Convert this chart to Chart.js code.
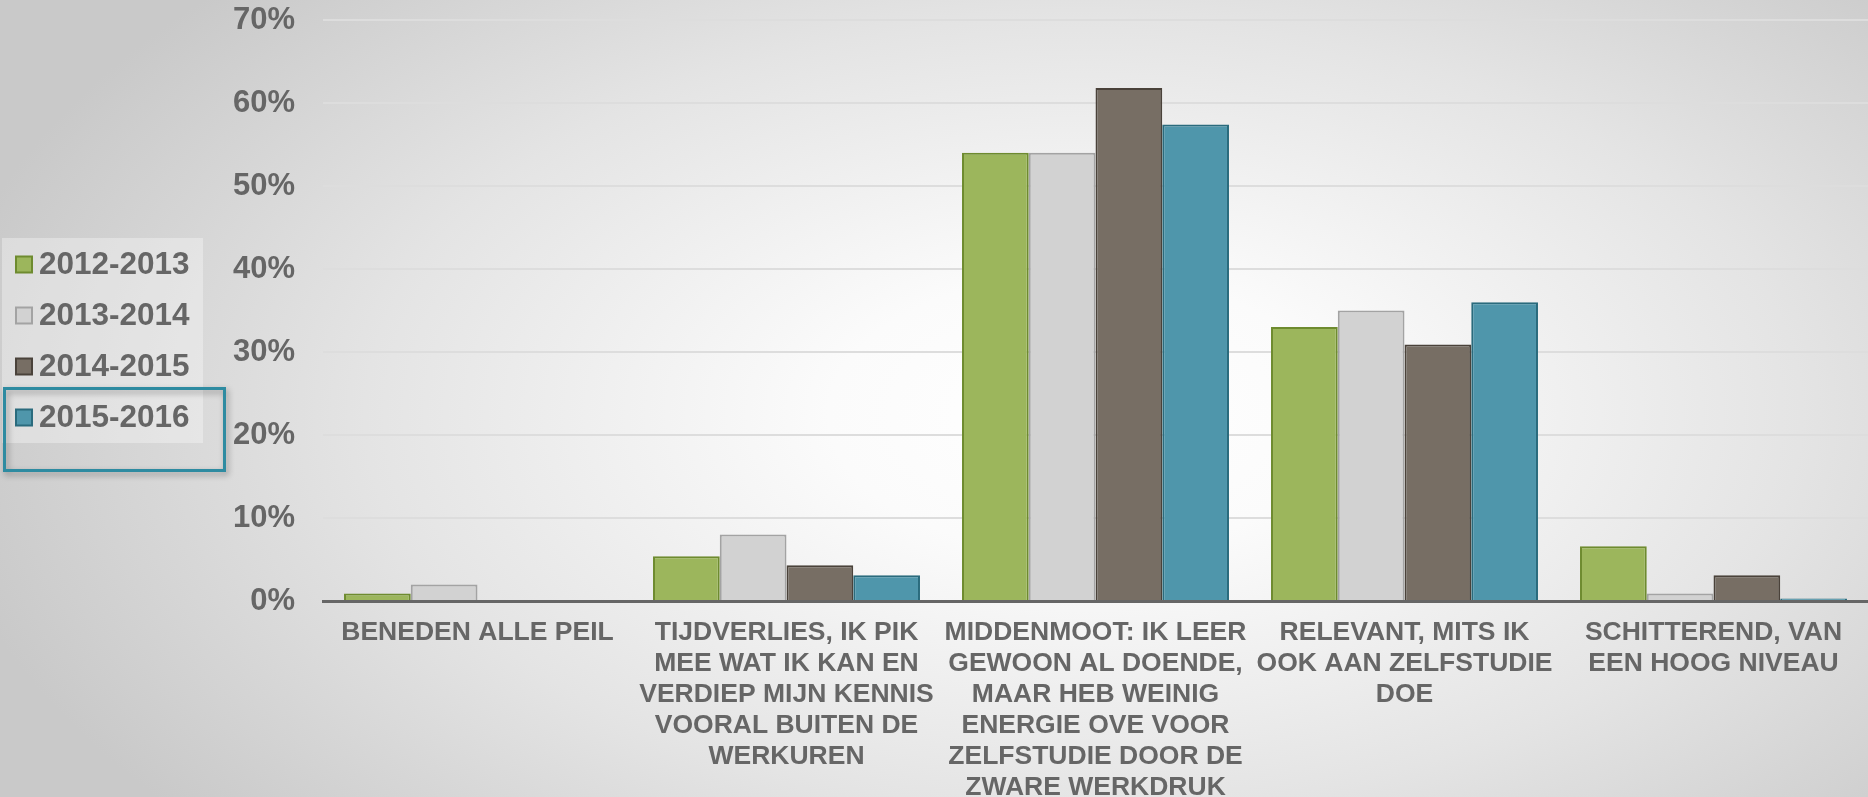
<!DOCTYPE html>
<html>
<head>
<meta charset="utf-8">
<script src="https://cdn.jsdelivr.net/npm/chart.js@4/dist/chart.umd.min.js"></script>
<style>
  html, body { margin: 0; padding: 0; }
  body {
    width: 1868px; height: 797px; overflow: hidden;
    background: radial-gradient(ellipse 62% 80% at 58% 52%, #ffffff 0%, #fbfbfb 22%, #e4e4e4 62%, #c9c9c9 100%);
  }
  canvas { display: block; }
</style>
</head>
<body>
<canvas id="myChart" width="1868" height="797"></canvas>
<script>
// categories (x axis), multi-line like the original slide
const categories = [
    ["BENEDEN ALLE PEIL"],
    ["TIJDVERLIES, IK PIK", "MEE WAT IK KAN EN", "VERDIEP MIJN KENNIS", "VOORAL BUITEN DE", "WERKUREN"],
    ["MIDDENMOOT: IK LEER", "GEWOON AL DOENDE,", "MAAR HEB WEINIG", "ENERGIE OVE VOOR", "ZELFSTUDIE DOOR DE", "ZWARE WERKDRUK"],
    ["RELEVANT, MITS IK", "OOK AAN ZELFSTUDIE", "DOE"],
    ["SCHITTEREND, VAN", "EEN HOOG NIVEAU"]
];
const years = ["2012-2013", "2013-2014", "2014-2015", "2015-2016"];

const y2012 = [0.9, 5.4, 54.0, 33.0, 6.6];
const y2013 = [2.0, 8.0, 54.0, 35.0, 0.9];
const y2014 = [0, 4.3, 61.8, 30.9, 3.1];
const y2015 = [0, 3.1, 57.4, 36.0, 0.3];

const yTicks = ["0%", "10%", "20%", "30%", "40%", "50%", "60%", "70%"];

const fills = ["#9cb65c", "#d2d2d2", "#776e64", "#4f96ab"];
const borders = ["#6e8b2f", "#a3a3a3", "#4a423a", "#2a6b7d"];

const font = "'Liberation Sans', Arial, sans-serif";
const textColor = "#666666";

// legend drawn on the left side, with the highlighted last entry
const sideLegend = {
    id: 'sideLegend',
    afterDraw(chart) {
        const ctx = chart.ctx;
        ctx.save();
        ctx.fillStyle = "rgba(255,255,255,0.33)";
        ctx.fillRect(2, 238, 201, 205);

        chart.data.datasets.forEach((ds, i) => {
            const cy = 264.5 + i * 51;
            ctx.fillStyle = ds.backgroundColor;
            ctx.strokeStyle = ds.borderColor;
            ctx.lineWidth = 2;
            ctx.fillRect(16, cy - 8, 16, 16);
            ctx.strokeRect(16, cy - 8, 16, 16);
            ctx.fillStyle = textColor;
            ctx.font = "bold 31.5px " + font;
            ctx.textBaseline = "middle";
            ctx.textAlign = "left";
            ctx.fillText(ds.label, 39, cy + 1);
        });

        ctx.shadowColor = "rgba(0,0,0,0.35)";
        ctx.shadowBlur = 6;
        ctx.shadowOffsetX = 2;
        ctx.shadowOffsetY = 3;
        ctx.strokeStyle = "#2e8ba1";
        ctx.lineWidth = 3;
        ctx.strokeRect(4.5, 388.5, 220, 82);
        ctx.restore();
    }
};

const sets = [y2012, y2013, y2014, y2015].map((vals, i) => ({
    label: years[i],
    data: vals,
    backgroundColor: fills[i],
    borderColor: borders[i],
    borderWidth: 2,
    borderSkipped: 'start'
}));

const ctx = document.getElementById('myChart');
new Chart(ctx, {
    type: 'bar',
    data: { labels: categories, datasets: sets },
    options: {
        responsive: false,
        devicePixelRatio: 1,
        animation: false,
        layout: { padding: { top: 20, left: 0, right: 0, bottom: 0 } },
        datasets: { bar: { categoryPercentage: 0.864, barPercentage: 1.0 } },
        plugins: {
            legend: { display: false },
            tooltip: { enabled: false }
        },
        scales: {
            x: {
                grid: { display: false, drawTicks: false },
                border: { display: true, color: "#666666", width: 3 },
                ticks: {
                    color: textColor,
                    font: { family: font, size: 26.5, weight: 'bold', lineHeight: 1.17 },
                    padding: 16,
                    maxRotation: 0,
                    autoSkip: false
                },
                afterFit(s) { s.height = 196; }
            },
            y: {
                min: 0,
                max: 70,
                grid: { color: "#dddddd", lineWidth: 2, drawTicks: false },
                border: { display: false },
                ticks: {
                    stepSize: 10,
                    color: textColor,
                    font: { family: font, size: 31, weight: 'bold' },
                    padding: 28,
                    callback: (v, i) => yTicks[i]
                },
                afterFit(s) {
                    s.width = 323;
                    s.paddingTop = 0;
                    s.paddingBottom = 0;
                }
            }
        }
    },
    plugins: [sideLegend]
});
</script>
</body>
</html>
